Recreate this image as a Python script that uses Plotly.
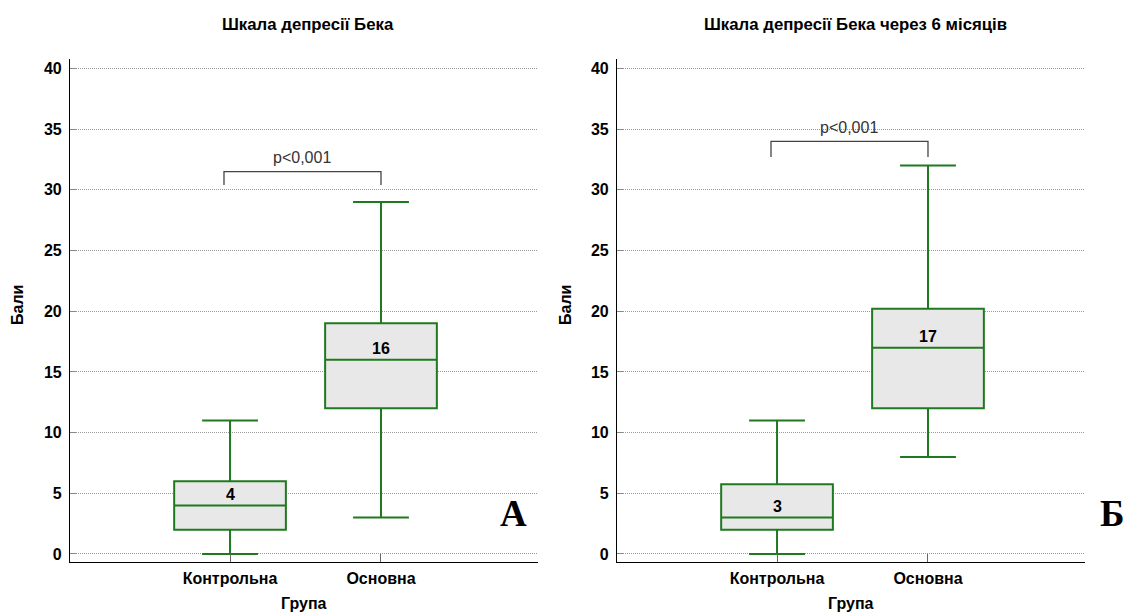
import plotly.graph_objects as go

categories = ["Контрольна", "Основна"]

# Panel A: baseline
a_min = [0, 3]
a_q1 = [2, 12]
a_med = [4, 16]
a_q3 = [6, 19]
a_max = [11, 29]

# Panel Б: after 6 months
b_min = [0, 8]
b_q1 = [2, 12]
b_med = [3, 17]
b_q3 = [5.75, 20.2]
b_max = [11, 32]

titles = ["Шкала депресії Бека", "Шкала депресії Бека через 6 місяців"]
panel_letters = ["А", "Б"]
p_text = "p<0,001"
y_ticks = [0, 5, 10, 15, 20, 25, 30, 35, 40]

GREEN = "#1f7a1f"
FONT = "Liberation Sans, Arial, sans-serif"
W, H = 1125, 613


def px(x):
    return x / W


def py(y):
    return 1 - y / H


fig = go.Figure()

panels = [
    dict(mn=a_min, q1=a_q1, med=a_med, q3=a_q3, mx=a_max, xa="x", ya="y",
         dom=(70, 538), bracket=(31.5, 30.4), ptext_y=32.65, bx=(-0.04, 1.0),
         title_x=308, ylab_x=17, letter_x=513),
    dict(mn=b_min, q1=b_q1, med=b_med, q3=b_q3, mx=b_max, xa="x2", ya="y2",
         dom=(617, 1085), bracket=(34.0, 32.7), ptext_y=35.1, bx=(-0.04, 1.0),
         title_x=855, ylab_x=565, letter_x=1112),
]

ydom = [py(562), py(59)]

annotations = []
shapes = []
for i, p in enumerate(panels):
    fig.add_trace(go.Box(
        x=categories, q1=p["q1"], median=p["med"], q3=p["q3"],
        lowerfence=p["mn"], upperfence=p["mx"],
        xaxis=p["xa"], yaxis=p["ya"],
        fillcolor="#e8e8e8", line=dict(color=GREEN, width=2),
        whiskerwidth=0.5, width=0.74, boxpoints=False, showlegend=False,
        hoverinfo="skip",
    ))
    sfx = "" if i == 0 else "2"
    for c, m in zip(categories, p["med"]):
        annotations.append(dict(
            x=c, y=m, xref="x" + sfx, yref="y" + sfx, text=f"{m:g}",
            xanchor="center", yanchor="middle",
            showarrow=False, yshift=11,
            font=dict(family=FONT, size=16, color="black", weight="bold")))
    top, bot = p["bracket"]
    x0, x1 = p["bx"]
    shapes.append(dict(
        type="path", xref="x" + sfx, yref="y" + sfx,
        path=f"M {x0},{bot} L {x0},{top} L {x1},{top} L {x1},{bot}",
        line=dict(color="#444444", width=1.3)))
    annotations.append(dict(
        x=(x0 + x1) / 2, y=p["ptext_y"], xref="x" + sfx, yref="y" + sfx, text=p_text,
        xanchor="center", yanchor="middle",
        showarrow=False, font=dict(family=FONT, size=16, color="#333333")))
    d0, d1 = p["dom"]
    cx = px((d0 + d1) / 2)
    annotations.append(dict(
        x=px(p["title_x"]), y=py(25), xref="paper", yref="paper", text=titles[i],
        xanchor="center", yanchor="middle",
        showarrow=False, font=dict(family=FONT, size=16.8, color="black", weight="bold")))
    annotations.append(dict(
        x=cx, y=py(603), xref="paper", yref="paper", text="Група",
        xanchor="center", yanchor="middle",
        showarrow=False, font=dict(family=FONT, size=16, color="black", weight="bold")))
    annotations.append(dict(
        x=px(p["ylab_x"]), y=py(305), xref="paper", yref="paper", text="Бали",
        xanchor="center", yanchor="middle",
        textangle=-90, showarrow=False,
        font=dict(family=FONT, size=16, color="black", weight="bold")))
    annotations.append(dict(
        x=px(p["letter_x"]), y=py(513), xref="paper", yref="paper", text=panel_letters[i],
        xanchor="center", yanchor="middle",
        showarrow=False, font=dict(family="Liberation Serif, Times New Roman, serif", size=37,
                                   color="black", weight="bold")))

    xaxis = dict(
        domain=[px(d0), px(d1)], range=[-1.06, 2.04], type="category",
        showline=True, linecolor="black", linewidth=1.2,
        ticks="inside", ticklen=8, tickcolor="#666666", tickwidth=1,
        showgrid=False, zeroline=False, ticklabelstandoff=2,
        tickfont=dict(family=FONT, size=16, color="black", weight="bold"),
        anchor="y" + sfx, fixedrange=True, automargin=False,
    )
    yaxis = dict(
        domain=ydom, range=[-0.66, 40.78],
        tickvals=y_ticks, showline=True, linecolor="black", linewidth=1.2,
        ticks="inside", ticklen=6, tickcolor="#888888", tickwidth=1,
        showgrid=True, gridcolor="#999999", griddash="1px,1px", gridwidth=1,
        zeroline=False, ticklabelstandoff=4,
        tickfont=dict(family=FONT, size=16, color="black", weight="bold"),
        anchor="x" + sfx, fixedrange=True, automargin=False,
    )
    fig.update_layout(**{"xaxis" + sfx: xaxis, "yaxis" + sfx: yaxis})

fig.update_layout(
    width=W, height=H, margin=dict(l=0, r=0, t=0, b=0),
    paper_bgcolor="white", plot_bgcolor="white",
    annotations=annotations, shapes=shapes, showlegend=False,
)

fig.write_html(
    "out.html",
    config={"displayModeBar": False},
    post_script="document.body.style.margin='0';document.body.style.overflow='hidden';",
)
